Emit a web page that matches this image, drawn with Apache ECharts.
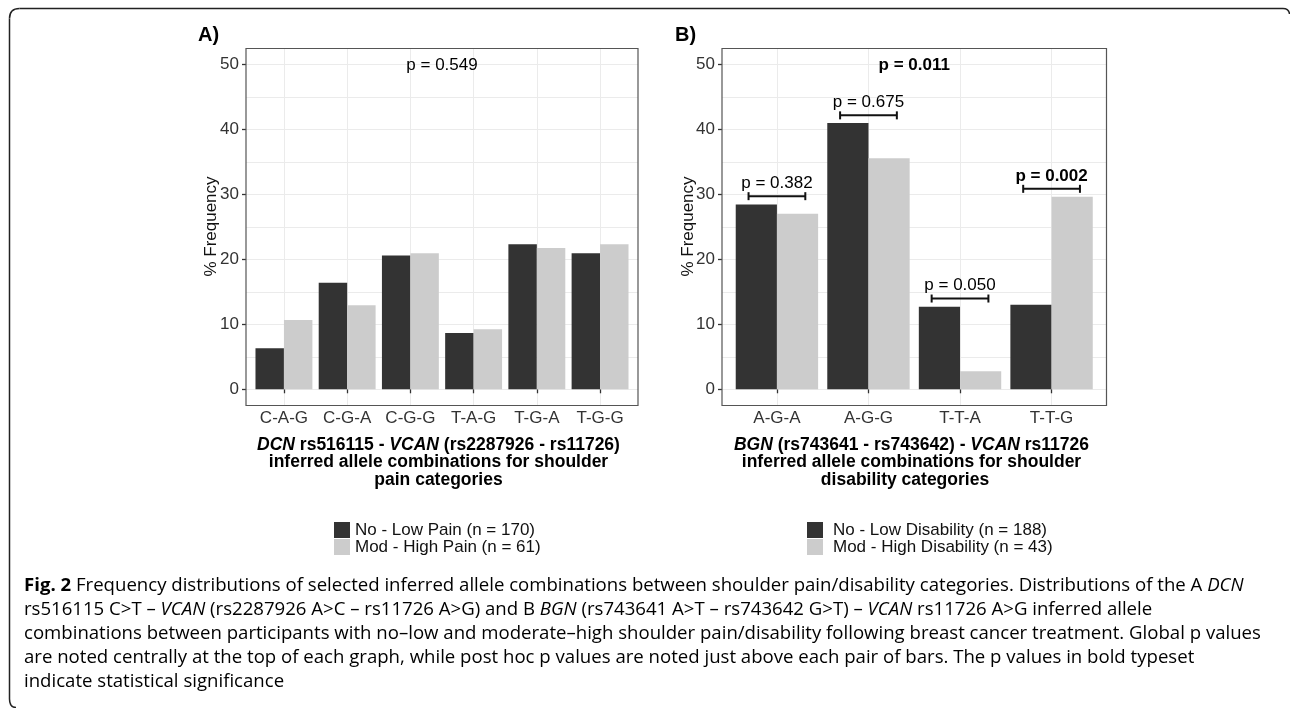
<!DOCTYPE html>
<html><head><meta charset="utf-8">
<script src="https://cdn.jsdelivr.net/npm/echarts@6/dist/echarts.min.js"></script>
<style>html,body{margin:0;padding:0;background:#fff}#c{width:1290px;height:708px}</style>
</head><body><div id="c"></div>
<script>
// ---------- data ----------
const catsA = ['C-A-G', 'C-G-A', 'C-G-G', 'T-A-G', 'T-G-A', 'T-G-G'];
const lowPainA = [6.32, 16.43, 20.59, 8.67, 22.34, 20.96];
const highPainA = [10.68, 12.94, 20.96, 9.24, 21.77, 22.34];
const namesA = ['No - Low Pain (n = 170)', 'Mod - High Pain (n = 61)'];

const catsB = ['A-G-A', 'A-G-G', 'T-T-A', 'T-T-G'];
const lowDisB = [28.48, 41.01, 12.70, 13.01];
const highDisB = [27.04, 35.59, 2.76, 29.65];
const namesB = ['No - Low Disability (n = 188)', 'Mod - High Disability (n = 43)'];

const yTicks = [0, 10, 20, 30, 40, 50];
const globalP = ['p = 0.549', 'p = 0.011'];
const globalPBold = [false, true];
const globalPY = 50;
const postHocLabels = ['p = 0.382', 'p = 0.675', 'p = 0.050', 'p = 0.002'];
const postHocY = [29.75, 42.2, 13.98, 30.88];
const postHocBold = [false, false, false, true];

// ---------- styling ----------
const F = '"Liberation Sans", Arial, Helvetica, sans-serif';
const CAP = '"Open Sans", "Noto Sans", sans-serif';
const DARK = '#333333', LIGHT = '#cccccc';
const GRIDC = '#ebebeb';
const HALF = 0.31;
const GRID_A = {left: 246, top: 48.5, width: 392, height: 357};
const GRID_B = {left: 722, top: 48.5, width: 384.5, height: 357};

const chart = echarts.init(document.getElementById('c'), null, {renderer: 'canvas'});

function pos(cats) { return cats.map((c, i) => i + 1); }
function pairs(vals) { return vals.map((v, i) => [i + 1, v]); }
function rectOf(g) { return {x: g.left, y: g.top, width: g.width, height: g.height}; }

function xAxisCfg(gridIndex, cats) {
  return {
    type: 'value', gridIndex, min: 0.4, max: cats.length + 0.6, splitNumber: cats.length,
    axisLine: {show: false},
    axisTick: {show: true, length: 4, customValues: pos(cats), lineStyle: {color: '#333', width: 1.3}},
    axisLabel: {customValues: pos(cats), formatter: v => cats[Math.round(v) - 1] || '',
      margin: 4, fontSize: 17, color: '#333', fontFamily: F},
    splitLine: {show: true, lineStyle: {color: GRIDC, width: 1}}
  };
}
function yAxesCfg(gridIndex) {
  return [{
    type: 'value', gridIndex, position: 'left', min: -2.5, max: 52.5, splitNumber: 11,
    axisLine: {show: false}, axisTick: {show: false}, axisLabel: {show: false},
    splitLine: {show: true, lineStyle: {color: GRIDC, width: 1}}
  }, {
    type: 'value', gridIndex, position: 'left', min: -2.5, max: 52.5, splitNumber: 11,
    axisLine: {show: false},
    axisTick: {show: true, length: 4, customValues: yTicks, lineStyle: {color: '#333', width: 1.3}},
    axisLabel: {customValues: yTicks, margin: 7, fontSize: 17, color: '#333', fontFamily: F},
    splitLine: {show: false}
  }];
}
function barSeries(name, vals, xi, yi, color) {
  return {
    type: 'bar', name, xAxisIndex: xi, yAxisIndex: yi, data: pairs(vals),
    barWidth: '45%', barGap: '0%', itemStyle: {color}, silent: true, animation: false
  };
}
function globalPSeries(idx, xi, yi, nCats) {
  return {
    type: 'custom', xAxisIndex: xi, yAxisIndex: yi, clip: false, silent: true, animation: false,
    data: [[(nCats + 1) / 2, globalPY]],
    renderItem: (params, api) => {
      const p = api.coord([api.value(0), api.value(1)]);
      return {type: 'text', x: p[0], y: p[1] + 1, style: {
        text: globalP[idx], align: 'center', verticalAlign: 'middle', fill: '#000',
        fontSize: 17, fontFamily: F, fontWeight: globalPBold[idx] ? 'bold' : 'normal'}};
    }
  };
}
function bracketSeries(xi, yi) {
  return {
    type: 'custom', xAxisIndex: xi, yAxisIndex: yi, clip: false, silent: true, animation: false,
    data: pairs(postHocY),
    renderItem: (params, api) => {
      const c = api.value(0), y = api.value(1), i = params.dataIndex;
      const a = api.coord([c - HALF, y]), b = api.coord([c + HALF, y]), m = api.coord([c, y]);
      const st = {stroke: '#111', lineWidth: 2};
      return {type: 'group', children: [
        {type: 'line', shape: {x1: a[0], y1: a[1], x2: b[0], y2: b[1]}, style: st},
        {type: 'line', shape: {x1: a[0], y1: a[1] - 4, x2: a[0], y2: a[1] + 4}, style: st},
        {type: 'line', shape: {x1: b[0], y1: b[1] - 4, x2: b[0], y2: b[1] + 4}, style: st},
        {type: 'text', x: m[0], y: m[1] - 4.5, style: {
          text: postHocLabels[i], align: 'center', verticalAlign: 'bottom', fill: '#000',
          fontSize: 17, fontFamily: F, fontWeight: postHocBold[i] ? 'bold' : 'normal'}}
      ]};
    }
  };
}
function legendCfg(names, left, pad) {
  return {
    data: names, left, top: 521.5, orient: 'vertical', padding: 0,
    itemWidth: 16, itemHeight: 16, itemGap: 0, icon: 'rect', selectedMode: false,
    textStyle: {fontSize: 17, color: '#111', fontFamily: F, padding: [0, 0, 0, pad]}
  };
}

const titleRich = {
  b: {fontWeight: 'bold', fontSize: 17.5, fontFamily: F, color: '#000'},
  bi: {fontWeight: 'bold', fontStyle: 'italic', fontSize: 17.5, fontFamily: F, color: '#000'}
};
function tText(x, y, text) {
  return {type: 'text', x, y, silent: true, style: {text, rich: titleRich, align: 'center', verticalAlign: 'middle'}};
}
const CS = 18.6;
const capRich = {
  n: {fontSize: CS, fontFamily: CAP, color: '#3a3a3a'},
  b: {fontSize: CS, fontFamily: CAP, fontWeight: 'bold', color: '#3a3a3a'},
  i: {fontSize: CS, fontFamily: CAP, fontStyle: 'italic', color: '#3a3a3a'}
};
const captionLines = [
  '{b|Fig. 2}{n| Frequency distributions of selected inferred allele combinations between shoulder pain/disability categories. Distributions of the A }{i|DCN}',
  '{n|rs516115 C>T – }{i|VCAN}{n| (rs2287926 A>C – rs11726 A>G) and B }{i|BGN}{n| (rs743641 A>T – rs743642 G>T) – }{i|VCAN}{n| rs11726 A>G inferred allele}',
  '{n|combinations between participants with no–low and moderate–high shoulder pain/disability following breast cancer treatment. Global p values}',
  '{n|are noted centrally at the top of each graph, while post hoc p values are noted just above each pair of bars. The p values in bold typeset}',
  '{n|indicate statistical significance}'
];
const capY = [585.5, 609.5, 633.5, 657.7, 682];

const frameStyle = {fill: null, stroke: '#222', lineWidth: 1.5};
const panelStyle = {fill: null, stroke: '#555', lineWidth: 1.2};
const graphics = [
  {type: 'rect', silent: true, z: 50, shape: rectOf(GRID_A), style: panelStyle},
  {type: 'rect', silent: true, z: 50, shape: rectOf(GRID_B), style: panelStyle},
  {type: 'polyline', silent: true, shape: {points: [[9.5, 699], [9.5, 18.5]]}, style: frameStyle},
  {type: 'bezierCurve', silent: true, shape: {x1: 9.5, y1: 18.5, cpx1: 9.5, cpy1: 8.5, x2: 19.5, y2: 8.5}, style: frameStyle},
  {type: 'polyline', silent: true, shape: {points: [[19.5, 8.5], [1283, 8.5]]}, style: frameStyle},
  {type: 'bezierCurve', silent: true, shape: {x1: 1283, y1: 8.5, cpx1: 1289, cpy1: 8.5, x2: 1289.5, y2: 14}, style: frameStyle},
  {type: 'bezierCurve', silent: true, shape: {x1: 9.5, y1: 699, cpx1: 9.5, cpy1: 707.5, x2: 16, y2: 707.5}, style: frameStyle},
  {type: 'text', x: 198, y: 35, silent: true, style: {text: 'A)', fontSize: 20, fontWeight: 'bold', fontFamily: F, fill: '#000', verticalAlign: 'middle'}},
  {type: 'text', x: 675, y: 35, silent: true, style: {text: 'B)', fontSize: 20, fontWeight: 'bold', fontFamily: F, fill: '#000', verticalAlign: 'middle'}},
  {type: 'text', x: 211.7, y: 226.5, rotation: Math.PI / 2, silent: true, style: {text: '% Frequency', fontSize: 17, fontFamily: F, fill: '#111', align: 'center', verticalAlign: 'middle'}},
  {type: 'text', x: 688.3, y: 226.5, rotation: Math.PI / 2, silent: true, style: {text: '% Frequency', fontSize: 17, fontFamily: F, fill: '#111', align: 'center', verticalAlign: 'middle'}},
  tText(438.5, 444.7, '{bi|DCN}{b| rs516115 - }{bi|VCAN}{b| (rs2287926 - rs11726)}'),
  tText(438.5, 462.3, '{b|inferred allele combinations for shoulder}'),
  tText(438.5, 480.3, '{b|pain categories}'),
  tText(911.5, 444.7, '{bi|BGN}{b| (rs743641 - rs743642) - }{bi|VCAN}{b| rs11726}'),
  tText(911.5, 462.3, '{b|inferred allele combinations for shoulder}'),
  tText(905, 480.3, '{b|disability categories}')
];
captionLines.forEach((t, k) => graphics.push({type: 'text', x: 24, y: capY[k], silent: true,
  style: {text: t, rich: capRich, align: 'left', verticalAlign: 'middle'}}));

const gridStyle = {show: true, backgroundColor: '#fff', borderWidth: 0, containLabel: false};

chart.setOption({
  animation: false,
  backgroundColor: '#fff',
  grid: [Object.assign({}, GRID_A, gridStyle), Object.assign({}, GRID_B, gridStyle)],
  xAxis: [xAxisCfg(0, catsA), xAxisCfg(1, catsB)],
  yAxis: yAxesCfg(0).concat(yAxesCfg(1)),
  legend: [legendCfg(namesA, 334, 0), legendCfg(namesB, 807, 5)],
  series: [
    barSeries(namesA[0], lowPainA, 0, 0, DARK),
    barSeries(namesA[1], highPainA, 0, 0, LIGHT),
    barSeries(namesB[0], lowDisB, 1, 2, DARK),
    barSeries(namesB[1], highDisB, 1, 2, LIGHT),
    globalPSeries(0, 0, 1, catsA.length),
    globalPSeries(1, 1, 3, catsB.length),
    bracketSeries(1, 3)
  ],
  graphic: graphics
});
</script></body></html>
